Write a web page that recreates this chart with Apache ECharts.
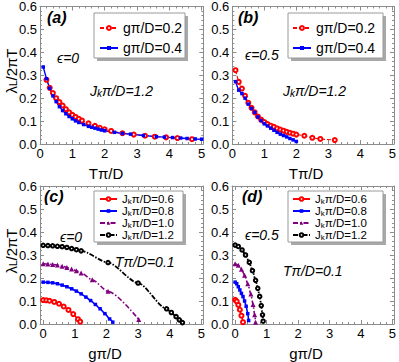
<!DOCTYPE html>
<html><head><meta charset="utf-8">
<script src="https://cdn.jsdelivr.net/npm/echarts@6/dist/echarts.min.js"></script>
<style>html,body{margin:0;padding:0;background:#fff}#c{width:399px;height:362px}</style>
</head><body><div id="c"></div>
<script>
// ---------- data ----------
// panel (a): eps=0, Jk*pi/D=1.2
const aT_g02 = [0.2,0.3,0.4,0.5,0.6,0.7,0.8,0.9,1.0,1.1,1.2,1.3,1.5,1.7,1.85,2.0,2.2,2.55,2.9,3.25,3.55,3.9,4.25,4.7];
const aL_g02 = [0.28,0.245,0.222,0.2,0.183,0.168,0.152,0.138,0.127,0.118,0.11,0.102,0.09,0.079,0.071,0.064,0.057,0.047,0.041,0.036,0.032,0.029,0.026,0.021];
const aT_g04 = [0.1,0.2,0.3,0.4,0.5,0.6,0.7,0.8,0.9,1.0,1.1,1.2,1.35,1.5,1.6,1.7,1.8,1.9,2.0,2.3,2.55,2.8,3.2,3.6,3.85,4.1,4.35,4.55,4.8,5.0];
const aL_g04 = [0.336,0.285,0.243,0.21,0.185,0.163,0.146,0.132,0.12,0.11,0.101,0.094,0.085,0.077,0.073,0.069,0.065,0.061,0.058,0.051,0.046,0.043,0.037,0.032,0.03,0.028,0.026,0.024,0.022,0.021];
// panel (b): eps=0.5, Jk*pi/D=1.2
const bT_g02 = [0.1,0.2,0.3,0.4,0.5,0.6,0.7,0.8,0.9,1.0,1.1,1.2,1.3,1.4,1.5,1.6,1.7,1.8,1.9,2.0,2.25,2.5,2.75,3.2];
const bL_g02 = [0.322,0.271,0.242,0.21,0.18,0.158,0.138,0.12,0.106,0.096,0.087,0.08,0.075,0.068,0.063,0.058,0.053,0.049,0.045,0.041,0.036,0.027,0.022,0.017];
const bT_g04 = [0.1,0.2,0.3,0.4,0.5,0.6,0.7,0.8,0.9,1.0,1.1,1.2,1.3,1.4,1.5,1.6,1.7,1.8,1.9,2.0];
const bL_g04 = [0.272,0.235,0.22,0.2,0.174,0.155,0.138,0.118,0.102,0.088,0.079,0.069,0.06,0.051,0.043,0.037,0.031,0.024,0.018,0.011];
// panel (c): eps=0, T*pi/D=0.1
const cG_J06 = [0,0.1,0.2,0.35,0.5,0.65,0.8,0.95,1.1,1.17];
const cL_J06 = [0.104,0.103,0.101,0.096,0.088,0.076,0.061,0.043,0.021,0.01];
const cG_J08 = [0,0.15,0.3,0.45,0.6,0.75,0.9,1.05,1.2,1.35,1.5,1.65,1.8,1.95,2.1,2.2];
const cL_J08 = [0.182,0.181,0.179,0.175,0.169,0.162,0.153,0.143,0.131,0.117,0.102,0.085,0.066,0.045,0.022,0.008];
const cG_J10 = [0,0.15,0.3,0.45,0.6,0.75,0.9,1.05,1.2,1.55,2.05,3.02];
const cL_J10 = [0.262,0.261,0.259,0.256,0.251,0.246,0.239,0.231,0.222,0.192,0.142,0.02];
const cG_J12 = [0,0.15,0.3,0.45,0.6,0.75,0.9,1.05,1.2,2.05,3.0,3.9,4.05,4.2,4.3,4.4];
const cL_J12 = [0.342,0.341,0.34,0.338,0.336,0.333,0.328,0.323,0.318,0.267,0.178,0.066,0.05,0.032,0.018,0.006];
// panel (d): eps=0.5, T*pi/D=0.1
const dG_J06 = [0,0.05,0.1,0.15,0.2,0.25];
const dL_J06 = [0.105,0.098,0.083,0.062,0.036,0.008];
const dG_J08 = [0,0.05,0.1,0.15,0.2,0.25,0.3,0.35,0.4,0.43];
const dL_J08 = [0.182,0.175,0.162,0.148,0.133,0.119,0.1,0.077,0.045,0.015];
const dG_J10 = [0,0.1,0.2,0.3,0.4,0.5,0.57,0.62,0.65];
const dL_J10 = [0.262,0.255,0.238,0.212,0.175,0.13,0.085,0.04,0.008];
const dG_J12 = [0,0.1,0.22,0.33,0.45,0.55,0.65,0.72,0.78,0.83,0.87,0.89];
const dL_J12 = [0.343,0.337,0.322,0.3,0.268,0.232,0.19,0.155,0.12,0.08,0.04,0.012];
// ticks
const xTicks = [0,1,2,3,4,5];
const xTickLabels = ['0','1','2','3','4','5'];
const yTicks = [0,0.1,0.2,0.3,0.4,0.5,0.6];
const yTickLabels = ['0.0','0.1','0.2','0.3','0.4','0.5','0.6'];
const gNames = ['gπ/D=0.2','gπ/D=0.4'];
const jNames = ['Jkπ/D=0.6','Jkπ/D=0.8','Jkπ/D=1.0','Jkπ/D=1.2'];

// ---------- layout / style ----------
const FONT = 'Liberation Sans, Arial, sans-serif';
const FRAME = '#8c8c8c';
const xMinor = [], yMinor = [];
for (let i = 1; i < 25; i++) if (i % 5) xMinor.push(i * 0.2);
for (let i = 1; i < 30; i++) if (i % 5) yMinor.push(i * 0.02);

const grids = [
  {left:40,    top:6,   width:163.3, height:138, xmin:0,    xmax:5.05},
  {left:232.3, top:6,   width:162,   height:138, xmin:0,    xmax:5.05},
  {left:40,    top:186, width:163,   height:138, xmin:-0.1, xmax:5.05},
  {left:232,   top:186, width:162.3, height:138, xmin:-0.1, xmax:5.05}
];
function lab(vals, labels) {
  return v => { let k = 0, best = 1e9; vals.forEach((t,i)=>{ const d=Math.abs(t-v); if(d<best){best=d;k=i;} }); return labels[k]; };
}
const xAxes = [], yAxes = [];
grids.forEach((g, gi) => {
  ['bottom','top'].forEach(pos => {
    [true,false].forEach(major => {
      xAxes.push({gridIndex:gi, type:'value', position:pos, min:g.xmin, max:g.xmax,
        axisLine:{show:major, onZero:false, lineStyle:{color:FRAME, width:1}},
        axisTick:{show:true, inside:true, length: major?4:2, customValues: major?xTicks:xMinor, lineStyle:{color:FRAME}},
        axisLabel:{show: major && pos==='bottom', customValues:xTicks, formatter: lab(xTicks,xTickLabels), color:'#000', fontSize:13, fontFamily:FONT, margin:3},
        splitLine:{show:false}});
    });
  });
  ['left','right'].forEach(pos => {
    [true,false].forEach(major => {
      yAxes.push({gridIndex:gi, type:'value', position:pos, min:0, max:0.6,
        axisLine:{show:major, onZero:false, lineStyle:{color:FRAME, width:1}},
        axisTick:{show:true, inside:true, length: major?4:2, customValues: major?yTicks:yMinor, lineStyle:{color:FRAME}},
        axisLabel:{show: major && pos==='left', customValues:yTicks, formatter: lab(yTicks,yTickLabels), color:'#000', fontSize:13, fontFamily:FONT, margin:3},
        splitLine:{show:false}});
    });
  });
});

const ST = {
  g02: {color:'#ff0000', symbol:'emptyCircle', size:4, bw:0.9, width:1.1, dash:[4,2]},
  g04: {color:'#0000ff', symbol:'rect', size:3.5, bw:0, width:1.4, dash:'solid'},
  J06: {color:'#ff0000', symbol:'emptyCircle', size:4, bw:0.9, width:1.6, dash:'solid', smooth:0.25},
  J08: {color:'#0000ff', symbol:'rect', size:3.5, bw:0, width:1.6, dash:'solid', smooth:0.25},
  J10: {color:'#800080', symbol:'triangle', size:5, bw:0, width:1.6, dash:[5,2,1.5,2], smooth:0.25},
  J12: {color:'#000000', symbol:'emptyCircle', size:3.5, bw:0.9, width:1.8, dash:[5,1.5,1.5,1.5], smooth:0.25}
};
function mk(name, gi, xs, ys, s) {
  return {type:'line', name, xAxisIndex:gi*4, yAxisIndex:gi*4,
    data: xs.map((x,i)=>[x, ys[i]]),
    symbol:s.symbol, symbolSize:s.size, showSymbol:true,
    smooth: s.smooth || false, smoothMonotone:'x',
    lineStyle:{color:s.color, width:s.width, type:s.dash},
    itemStyle:{color:s.color, borderColor:s.color, borderWidth:s.bw},
    emphasis:{disabled:true}, animation:false, z:2};
}
const series = [
  mk(gNames[0],0,aT_g02,aL_g02,ST.g02), mk(gNames[1],0,aT_g04,aL_g04,ST.g04),
  mk(gNames[0],1,bT_g02,bL_g02,ST.g02), mk(gNames[1],1,bT_g04,bL_g04,ST.g04),
  mk(jNames[0],2,cG_J06,cL_J06,ST.J06), mk(jNames[1],2,cG_J08,cL_J08,ST.J08),
  mk(jNames[2],2,cG_J10,cL_J10,ST.J10), mk(jNames[3],2,cG_J12,cL_J12,ST.J12),
  mk(jNames[0],3,dG_J06,dL_J06,ST.J06), mk(jNames[1],3,dG_J08,dL_J08,ST.J08),
  mk(jNames[2],3,dG_J10,dL_J10,ST.J10), mk(jNames[3],3,dG_J12,dL_J12,ST.J12)
];

const subRich = {
  m:{fontSize:11.5, fontFamily:FONT, color:'#000', lineHeight:12, verticalAlign:'bottom'},
  s:{fontSize:8, fontFamily:FONT, color:'#000', lineHeight:7, verticalAlign:'bottom'}
};
function legendJ(left, top) {
  return {left, top, orient:'vertical', padding:0, itemWidth:17, itemHeight:4.5, itemGap:0,
    data:jNames, selectedMode:false, z:6,
    formatter: n => '{m|J}{s|k}{m|' + n.slice(2) + '}',
    textStyle:{fontSize:11.5, fontFamily:FONT, color:'#000', lineHeight:12, rich:subRich}};
}
function legendG(left, top) {
  return {left, top, orient:'vertical', padding:0, itemWidth:18, itemHeight:5, itemGap:6,
    data:gNames, selectedMode:false, z:6,
    textStyle:{fontSize:14, fontFamily:FONT, color:'#000', lineHeight:14}};
}
function box(x, y, w, h) {
  return [
    {type:'rect', z:4, shape:{x:x+3, y:y+3, width:w, height:h}, style:{fill:'#a8a8a8'}},
    {type:'rect', z:5, shape:{x:x, y:y, width:w, height:h}, style:{fill:'#fff', stroke:'#9a9a9a', lineWidth:1}}
  ];
}
const itRich = {
  i:{fontSize:14, fontFamily:FONT, fontStyle:'italic', color:'#000', lineHeight:14, verticalAlign:'bottom'},
  s:{fontSize:10, fontFamily:FONT, fontStyle:'italic', color:'#000', lineHeight:5, verticalAlign:'bottom'}
};
function txt(x, y, text) {
  return {type:'text', z:7, x, y, style:{text, fill:'#000', font:'italic 14px ' + FONT, verticalAlign:'middle', align:'left', rich:itRich}};
}
function lbl(x, y, text) {
  return {type:'text', z:7, x, y, style:{text, fill:'#000', font:'bold italic 16px ' + FONT, verticalAlign:'middle', align:'left'}};
}
const upRich = {
  m:{fontSize:15, fontFamily:FONT, color:'#000', lineHeight:15, verticalAlign:'bottom'},
  s:{fontSize:10, fontFamily:FONT, color:'#000', lineHeight:5, verticalAlign:'bottom'}
};
function axTitle(x, y, text, rot) {
  return {type:'text', z:7, x, y, rotation: rot||0, style:{text, fill:'#000', font:'15px ' + FONT, align:'center', verticalAlign:'middle', rich:upRich}};
}

const graphic = [].concat(
  box(94, 13, 91, 45), box(288, 13, 95, 45), box(94, 191, 89, 51), box(288, 191, 95, 51),
  [
    lbl(47, 17, '(a)'), lbl(238, 17, '(b)'), lbl(44, 196, '(c)'), lbl(242, 196, '(d)'),
    txt(57, 58, '{i|ϵ=0}'), txt(245, 55, '{i|ϵ=0.5}'), txt(60, 237, '{i|ϵ=0}'), txt(245, 235, '{i|ϵ=0.5}'),
    txt(90, 91, '{i|J}{s|k}{i|π/D=1.2}'), txt(283, 91, '{i|J}{s|k}{i|π/D=1.2}'),
    txt(115, 262, '{i|Tπ/D=0.1}'), txt(283, 271, '{i|Tπ/D=0.1}'),
    axTitle(106, 173, '{m|Tπ/D}'), axTitle(306, 173, '{m|Tπ/D}'),
    axTitle(105, 353, '{m|gπ/D}'), axTitle(306, 353, '{m|gπ/D}'),
    axTitle(11, 71, '{m|λ}{s|L}{m|/2πT}', Math.PI/2), axTitle(11, 251, '{m|λ}{s|L}{m|/2πT}', Math.PI/2)
  ]
);

const chart = echarts.init(document.getElementById('c'), null, {renderer:'svg', width:399, height:362});
chart.setOption({
  backgroundColor:'#fff',
  animation:false,
  grid: grids.map(g => ({left:g.left, top:g.top, width:g.width, height:g.height, containLabel:false})),
  xAxis: xAxes, yAxis: yAxes,
  legend: [legendG(99, 21), legendG(292, 21), legendJ(99, 193), legendJ(292, 193)],
  series,
  graphic
});
</script></body></html>
